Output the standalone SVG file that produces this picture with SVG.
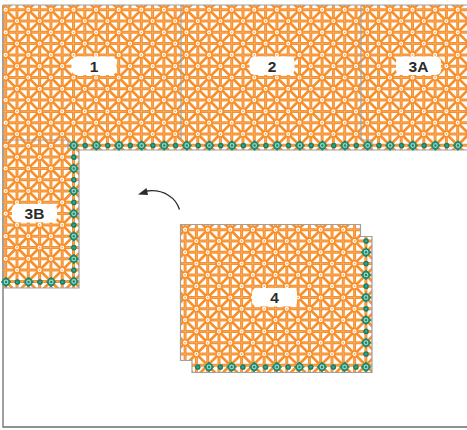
<svg xmlns="http://www.w3.org/2000/svg" width="467" height="430" viewBox="0 0 467 430">
<style>
.o{fill:none;stroke:#a0a0a0;stroke-width:1.2}
.lb{fill:#fff;stroke:none}
.t{font:bold 15.500px "Liberation Sans",Arial,sans-serif;fill:#2b2b2b;text-anchor:middle}
.hv{fill:none;stroke:#f78f2b;stroke-width:3}
.hw{fill:none;stroke:#fff;stroke-width:.6;stroke-opacity:.35}
.dg{fill:none;stroke:#f78f2b;stroke-width:2.700}
.d1,.d2,.d3{fill:none;stroke-dasharray:0 22.6;stroke-linecap:round}
.d1{stroke:#f78f2b;stroke-width:7}
.d2{stroke:#fff;stroke-width:4.200}
.d3{stroke:#f9a860;stroke-width:1.800}
.big,.small{fill:none;stroke:none}
.big{marker-start:url(#mb);marker-mid:url(#mb);marker-end:url(#mb)}
.small{marker-start:url(#ms);marker-mid:url(#ms);marker-end:url(#ms)}
</style>
<defs>
<path id="dots" d="M0 0h500m-500 22.6h500m-500 22.6h500m-500 22.6h500m-500 22.6h500m-500 22.6h500m-500 22.6h500m-500 22.6h500m-500 22.6h500"/>
<path id="hl" d="M0 0h500m-500 11.3h500m-500 11.3h500m-500 11.3h500m-500 11.3h500m-500 11.3h500m-500 11.3h500m-500 11.3h500m-500 11.3h500m-500 11.3h500m-500 11.3h500m-500 11.3h500m-500 11.3h500m-500 11.3h500m-500 11.3h500m-500 11.3h500m-500 11.3h500"/>
<path id="vl" d="M0 0v181m11.3-181v181m11.3-181v181m11.3-181v181m11.3-181v181m11.3-181v181m11.3-181v181m11.3-181v181m11.3-181v181m11.3-181v181m11.3-181v181m11.3-181v181m11.3-181v181m11.3-181v181m11.3-181v181m11.3-181v181m11.3-181v181m11.3-181v181m11.3-181v181m11.3-181v181m11.3-181v181m11.3-181v181m11.3-181v181m11.3-181v181m11.3-181v181m11.3-181v181m11.3-181v181m11.3-181v181m11.3-181v181m11.3-181v181m11.3-181v181m11.3-181v181m11.3-181v181m11.3-181v181m11.3-181v181m11.3-181v181m11.3-181v181m11.3-181v181m11.3-181v181m11.3-181v181m11.3-181v181m11.3-181v181m11.3-181v181m11.3-181v181"/>
<g id="lat">
<path class="dg" d="M-180.800 0l180.800 180.800m-158.200-180.800l180.800 180.800m-158.200-180.800l180.800 180.800m-158.200-180.800l180.800 180.800m-158.200-180.800l180.800 180.800m-158.200-180.800l180.800 180.800m-158.200-180.800l180.800 180.800m-158.200-180.800l180.800 180.800m-158.200-180.800l180.800 180.800m-158.200-180.800l180.800 180.800m-158.200-180.800l180.800 180.800m-158.200-180.800l180.800 180.800m-158.200-180.800l180.800 180.800m-158.200-180.800l180.800 180.800m-158.200-180.800l180.800 180.800m-158.200-180.800l180.800 180.800m-158.200-180.800l180.800 180.800m-158.200-180.800l180.800 180.800m-158.200-180.800l180.800 180.800m-158.200-180.800l180.800 180.800m-158.200-180.800l180.800 180.800m-158.200-180.800l180.800 180.800m-158.200-180.800l180.800 180.800m-158.200-180.800l180.800 180.800m-158.200-180.800l180.800 180.800m-158.200-180.800l180.800 180.800m-158.200-180.800l180.800 180.800m-158.200-180.800l180.800 180.800m-158.200-180.800l180.800 180.800"/>
<path class="dg" d="M0 0l-180.800 180.800m203.400-180.800l-180.800 180.800m203.400-180.800l-180.800 180.800m203.400-180.800l-180.800 180.800m203.400-180.800l-180.800 180.800m203.400-180.800l-180.800 180.800m203.400-180.800l-180.800 180.800m203.400-180.800l-180.800 180.800m203.400-180.800l-180.800 180.800m203.400-180.800l-180.800 180.800m203.400-180.800l-180.800 180.800m203.400-180.800l-180.800 180.800m203.400-180.800l-180.800 180.800m203.400-180.800l-180.800 180.800m203.400-180.800l-180.800 180.800m203.400-180.800l-180.800 180.800m203.400-180.800l-180.800 180.800m203.400-180.800l-180.800 180.800m203.400-180.800l-180.800 180.800m203.400-180.800l-180.800 180.800m203.400-180.800l-180.800 180.800m203.400-180.800l-180.800 180.800m203.400-180.800l-180.800 180.800m203.400-180.800l-180.800 180.800m203.400-180.800l-180.800 180.800m203.400-180.800l-180.800 180.800m203.400-180.800l-180.800 180.800m203.400-180.800l-180.800 180.800m203.400-180.800l-180.800 180.800m203.400-180.800l-180.800 180.800"/>
<use href="#hl" class="hv"/><use href="#vl" class="hv"/><use href="#hl" class="hw"/><use href="#vl" class="hw"/>
<g id="r1"><use href="#dots" class="d1"/><use href="#dots" class="d2"/><use href="#dots" class="d3"/></g>
<use href="#r1" x="11.300" y="11.300"/>
</g>
<marker id="mb" markerUnits="userSpaceOnUse" markerWidth="14" markerHeight="14" refX="7" refY="7" overflow="visible"><path d="M2 7H12M7 2V12" stroke="#1f8a70" stroke-width="1.600"/><circle cx="7" cy="7" r="3.300" fill="#9fd3c4" stroke="#1a8a6f" stroke-width="1.700"/><circle cx="7" cy="7" r="1.200" fill="#1a8a6f"/></marker>
<marker id="ms" markerUnits="userSpaceOnUse" markerWidth="8" markerHeight="8" refX="4" refY="4" overflow="visible"><circle cx="4" cy="4" r="2.100" fill="#3f9f88" stroke="#12806a" stroke-width="1.500"/></marker>
<clipPath id="c1"><path d="M3 5H467V150H68V140H3Z"/></clipPath>
<clipPath id="c3"><path d="M3 140H68V150H79V288H3Z"/></clipPath>
<clipPath id="c4"><path d="M180.500 224.500H360.500V236.500H372V372H192V360H180.500Z"/></clipPath>
</defs>
<path d="M3 5V427H467" fill="none" stroke="#6e6e6e" stroke-width="1.300"/>
<g id="panel-1">
<g clip-path="url(#c1)"><use href="#lat" transform="translate(-5.600 -1.600)"/></g>
<path class="o" d="M3 5H467M68 150H467"/>
<rect class="lb" x="71.500" y="56.500" width="45" height="18.500" rx="5"/>
<text class="t" x="94" y="71.500">1</text>
</g>
<g id="panel-2">
<path class="o" d="M181 5V140"/>
<rect class="lb" x="249.500" y="56.500" width="45" height="18.500" rx="5"/>
<text class="t" x="272" y="71.500">2</text>
</g>
<g id="panel-3A">
<path class="o" d="M361 5V140H372V150"/>
<rect class="lb" x="396" y="56.500" width="45" height="18.500" rx="5"/>
<text class="t" x="418.500" y="71.500">3A</text>
</g>
<g id="panel-3B">
<g clip-path="url(#c3)"><use href="#lat" transform="translate(-5.600 134.500)"/></g>
<path class="small" d="M73.800 157.200V179.800V202.400V225V247.600V270.200"/>
<path class="big" d="M73.800 168.500V191.100V213.700V236.300V258.900V281.500"/>
<path class="big" d="M6 282H28.600H51.200"/>
<path class="small" d="M17.300 282H39.900H62.500"/>
<path class="o" d="M3 140H68V150M79 150V288H3"/>
<rect class="lb" x="12" y="204" width="45" height="18.500" rx="5"/>
<text class="t" x="34.500" y="219">3B</text>
</g>
<path class="big" d="M73.800 145.500H96.400H119H141.600H164.200H186.800H209.400H232H254.600H277.200H299.800H322.400H345H367.600H390.200H412.800H435.400H458"/>
<path class="small" d="M85.100 145.500H107.700H130.300H152.900H175.500H198.100H220.700H243.300H265.900H288.500H311.100H333.700H356.300H378.900H401.500H424.100H446.700"/>
<g id="panel-4">
<g clip-path="url(#c4)"><use href="#lat" transform="translate(173.800 218.400)"/></g>
<path class="small" d="M366 241V263.600V286.200V308.800V331.400V354"/>
<path class="big" d="M366 252.300V274.900V297.500V320.100V342.700V367"/>
<path class="big" d="M209 367H231.600H254.200H276.800H299.400H322H344.600"/>
<path class="small" d="M197.700 367H220.300H242.900H265.500H288.100H310.700H333.300H355.900"/>
<path class="o" d="M180.500 224.500H360.500V236.500H372V372.500H192V360.500H180.500Z"/>
<rect class="lb" x="252" y="288" width="45" height="18.500" rx="5"/>
<text class="t" x="274.500" y="303">4</text>
</g>
<g id="connectors">
<path d="M179.500 209.500C176 198 164 189 147 191" fill="none" stroke="#2b2b2b" stroke-width="1.300"/>
<path d="M138 194.500L146.500 188L148 195Z" fill="#2b2b2b"/>
</g>
</svg>
